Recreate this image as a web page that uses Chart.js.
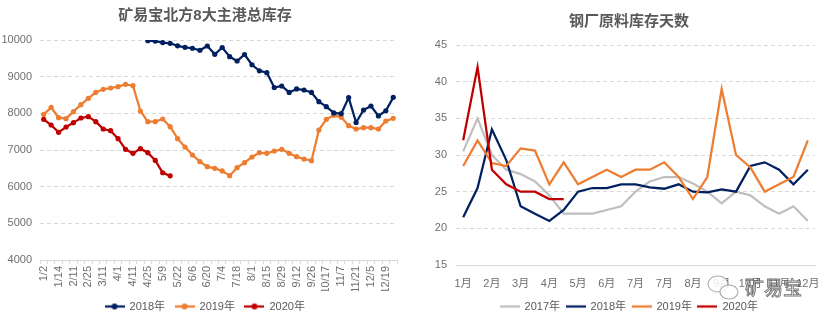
<!DOCTYPE html>
<html lang="zh">
<head>
<meta charset="UTF-8">
<title>港口库存与钢厂原料库存天数</title>
<script src="https://cdn.jsdelivr.net/npm/chart.js"></script>
<style>
  body { margin: 0; background: #fff; width: 831px; height: 322px; overflow: hidden; position: relative; }
  .box { position: absolute; top: 0; height: 322px; }
  #leftBox { left: 0; width: 410px; }
  #rightBox { left: 423px; width: 412px; }
</style>
</head>
<body>
<div class="box" id="leftBox"><canvas id="portChart"></canvas></div>
<div class="box" id="rightBox"><canvas id="millChart"></canvas></div>

<script>
// 北方8大主港总库存（周度）
const portDates = ['1/2','1/8','1/14','1/28','2/11','2/18','2/25','3/4','3/11','3/22',
  '4/1','4/4','4/11','4/18','4/25','5/2','5/9','5/16','5/22','5/30',
  '6/6','6/13','6/20','6/27','7/4','7/11','7/18','7/25','8/1','8/8',
  '8/15','8/22','8/29','9/5','9/12','9/19','9/26','10/10','10/17','10/24',
  '11/7','11/14','11/21','11/28','12/5','12/12','12/19','12/26'];
const port2018 = [null,null,null,null,null,null,null,null,null,null,null,null,null,null,
  9980,9970,9930,9910,9840,9800,9775,9720,9836,9610,
  9795,9546,9427,9605,9325,9160,9110,8705,8745,8570,
  8665,8636,8570,8318,8182,8010,7990,8430,7750,8091,
  8200,7930,8070,8436];
const port2019 = [7970,8160,7882,7855,8046,8237,8409,8573,8655,8691,
  8727,8791,8755,8064,7773,7773,7846,7637,7309,7082,
  6864,6682,6546,6500,6428,6300,6519,6655,6809,6928,
  6909,6973,7018,6909,6818,6755,6709,7546,7836,7946,
  7891,7664,7573,7609,7609,7573,7791,7864];
const port2020 = [7836,7682,7482,7627,7746,7873,7909,7773,7573,7527,
  7309,7018,6909,7037,6927,6715,6380,6295];

// 钢厂原料库存天数（半月）
const millMonths = ['1月','1月','2月','2月','3月','3月','4月','4月','5月','5月','6月','6月',
  '7月','7月','7月','8月','8月','8月','9月','9月','10月','10月','11月','11月','12月'];
const mill2017 = [30.5,35,30,28,27.4,26.4,24.5,22,22,22,22.5,23,25,26.4,27,27,26.1,25,23.4,25,24.5,23,22,23,21];
const mill2018 = [21.5,25.5,33.5,29.3,23,22,21,22.5,25,25.5,25.5,26,26,25.6,25.4,26,25,24.9,25.3,25,28.5,29,28,26,28];
const mill2019 = [28.5,32,28.9,28.5,30.9,30.6,26,29,26,27,28,27,28,28,29,27,24,27,39,30,28.3,25,26,27,32];
const mill2020 = [32,42,28,26,25,25,24,24];

const NAVY = '#002060', ORANGE = '#ed7d31', RED = '#c00000', GREY = '#bfbfbf';

Chart.defaults.font.family = "'Liberation Sans', 'Noto Sans CJK SC', sans-serif";
Chart.defaults.font.size = 11;
Chart.defaults.color = '#6f6f6f';

// 图例用的小线段（可带圆点）
function legendIcon(color, dot) {
  const c = document.createElement('canvas');
  c.width = 20; c.height = 8;
  const g = c.getContext('2d');
  g.strokeStyle = color; g.lineWidth = 2.25;
  g.beginPath(); g.moveTo(0, 4); g.lineTo(20, 4); g.stroke();
  if (dot) { g.fillStyle = color; g.beginPath(); g.arc(10, 4, 3, 0, Math.PI * 2); g.fill(); }
  return c;
}

function legendOpts(icons, pad) {
  return {
    position: 'bottom',
    labels: {
      usePointStyle: true,
      pointStyleWidth: 19,
      padding: pad,
      color: '#595959',
      sort: (a, b) => a.datasetIndex - b.datasetIndex,
      generateLabels(chart) {
        const items = Chart.defaults.plugins.legend.labels.generateLabels(chart);
        items.forEach(it => { it.pointStyle = icons[it.datasetIndex]; });
        return items;
      }
    }
  };
}

function titleOpts(text, top, bottom) {
  return { display: true, text, color: '#595959', padding: { top, bottom },
    font: { size: 15, weight: 'bold', family: "'Liberation Sans', 'Noto Sans CJK SC', sans-serif" } };
}

const hideMin = min => ctx => ctx.tick.value === min ? 'rgba(0,0,0,0)' : '#d9d9d9';

// 右侧留白用的空轴，不影响标题和图例的居中
const spacer = w => ({ position: 'right', grid: { display: false }, border: { display: false },
  ticks: { display: false }, afterFit(s) { s.width = w; } });

function portSet(label, data, color) {
  return { label, data, borderColor: color, backgroundColor: color, borderWidth: 2.25,
    pointRadius: 2.6, pointBorderWidth: 0, pointBackgroundColor: color, tension: 0, spanGaps: false };
}

new Chart(document.getElementById('portChart'), {
  type: 'line',
  data: {
    labels: portDates,
    datasets: [
      portSet('2018年', port2018, NAVY),
      portSet('2019年', port2019, ORANGE),
      portSet('2020年', port2020, RED)
    ]
  },
  options: {
    responsive: true, maintainAspectRatio: false, animation: false,
    layout: { padding: 0 },
    plugins: {
      title: titleOpts('矿易宝北方8大主港总库存', 7, 15),
      legend: legendOpts([legendIcon(NAVY, true), legendIcon(ORANGE, true), legendIcon(RED, true)], 10),
      tooltip: { enabled: false }
    },
    scales: {
      x: {
        offset: true,
        grid: { offset: true, drawOnChartArea: false, drawTicks: true, tickLength: 4, color: '#d9d9d9' },
        border: { display: true, color: '#d9d9d9' },
        ticks: { autoSkip: false, minRotation: 90, maxRotation: 90, padding: 2,
          callback: (v, i) => i % 2 === 0 ? portDates[i] : '' },
        afterFit(s) { s.height = 31; }
      },
      y: {
        min: 4000, max: 10000,
        ticks: { stepSize: 1000, padding: 8, callback: v => String(v) },
        grid: { color: hideMin(4000), drawTicks: false },
        border: { display: false, dash: [4, 3] },
        afterFit(s) { s.width = 40; }
      },
      yr: spacer(13)
    }
  }
});

// 右图水印
const markPlugin = {
  id: 'mark',
  afterDraw(chart) {
    const g = chart.ctx;
    g.save();
    g.fillStyle = 'rgba(255,255,255,0.85)';
    g.strokeStyle = 'rgba(90,90,90,0.5)'; g.lineWidth = 1.1;
    g.beginPath(); g.ellipse(295, 284, 10, 8, 0, 0, Math.PI * 2); g.fill(); g.stroke();
    g.beginPath(); g.ellipse(306, 292, 9, 7, 0, 0, Math.PI * 2); g.fill(); g.stroke();
    g.font = "19px 'Noto Sans CJK SC'";
    g.textBaseline = 'middle';
    g.fillStyle = 'rgba(255,255,255,0.75)';
    g.strokeStyle = 'rgba(70,70,70,0.75)'; g.lineWidth = 0.9;
    g.fillText('矿易宝', 322, 288);
    g.strokeText('矿易宝', 322, 288);
    g.restore();
  }
};

function millSet(label, data, color, order) {
  return { label, data, borderColor: color, backgroundColor: color, borderWidth: 2.25,
    pointRadius: 0, tension: 0, order };
}

new Chart(document.getElementById('millChart'), {
  type: 'line',
  data: {
    labels: millMonths,
    datasets: [
      millSet('2017年', mill2017, GREY, 3),
      millSet('2018年', mill2018, NAVY, 2),
      millSet('2019年', mill2019, ORANGE, 1),
      millSet('2020年', mill2020, RED, 0)
    ]
  },
  options: {
    responsive: true, maintainAspectRatio: false, animation: false,
    layout: { padding: 0 },
    plugins: {
      title: titleOpts('钢厂原料库存天数', 13, 14),
      legend: legendOpts([legendIcon(GREY), legendIcon(NAVY), legendIcon(ORANGE), legendIcon(RED)], 6),
      tooltip: { enabled: false }
    },
    scales: {
      x: {
        offset: true,
        grid: { display: false, drawTicks: false },
        border: { display: true, color: '#d9d9d9' },
        ticks: { autoSkip: false, maxRotation: 0, padding: 12,
          callback: (v, i) => i % 2 === 0 ? millMonths[i] : '' },
        afterFit(s) { s.height = 30; }
      },
      y: {
        min: 15, max: 45,
        ticks: { stepSize: 5, padding: 9 },
        grid: { color: hideMin(15), drawTicks: false },
        border: { display: false, dash: [4, 3] },
        afterFit(s) { s.width = 33; }
      },
      yr: spacer(20)
    }
  },
  plugins: [markPlugin]
});
</script>
</body>
</html>
